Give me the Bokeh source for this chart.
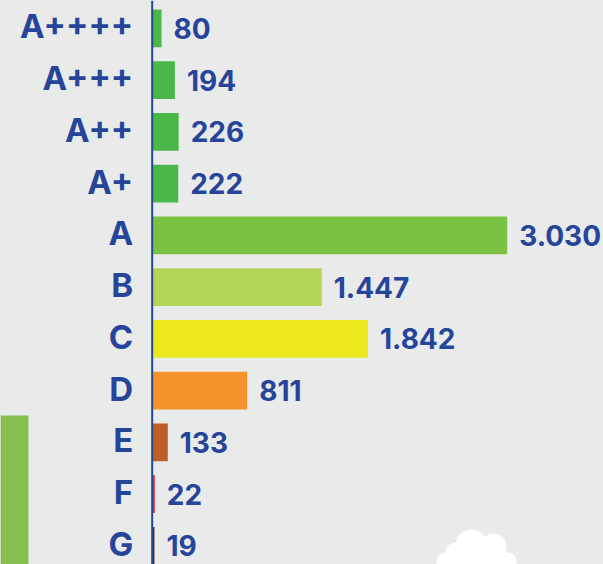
from bokeh.plotting import figure
from bokeh.models import Range1d, Span, BoxAnnotation, ColumnDataSource
from bokeh.core.properties import value
from bokeh.embed import file_html
from bokeh.resources import INLINE

categories = ["A++++", "A+++", "A++", "A+", "A", "B", "C", "D", "E", "F", "G"]
counts = [80, 194, 226, 222, 3030, 1447, 1842, 811, 133, 22, 19]
bar_colors = ["#4ab849", "#4ab849", "#4ab849", "#4ab849", "#7bc142", "#b3d455",
              "#ece81e", "#f6922c", "#bd5f26", "#ee2a35", "#711326"]

BG = "#e9eaea"
NAVY = "#26459a"
FONT = value("Inter")
W, H = 603, 564

count_labels = [f"{v:,}".replace(",", ".") for v in counts]
pos = list(range(len(categories)))

src = ColumnDataSource(dict(pos=pos, cat=categories, count=counts,
                            label=count_labels, color=bar_colors))

p = figure(width=W, height=H, output_backend="svg", toolbar_location=None,
           x_range=Range1d(-1294.8, 3852.0), y_range=Range1d(10.361, -0.537),
           x_axis_type=None, y_axis_type=None, min_border=0,
           background_fill_color=BG, border_fill_color=BG, outline_line_color=None)
p.grid.visible = False


def screen_box(l, r, t, b, color, rad=0):
    # t, b given from the top of the canvas; screen y counts from the bottom
    return BoxAnnotation(left=l, right=r, top=H - t, bottom=H - b,
                         left_units="screen", right_units="screen",
                         top_units="screen", bottom_units="screen",
                         border_radius=rad, fill_color=color, fill_alpha=1,
                         line_color=None, level="underlay")


# decorations
p.add_layout(screen_box(0, 28, 415, 580, "#86be50"))
for (l, r, t, b, rad) in [(436, 516, 552, 580, 9), (455, 487, 529, 561, 16),
                          (480, 506, 533, 559, 13), (445, 465, 542, 562, 10)]:
    p.add_layout(screen_box(l, r, t, b, "white", rad))

p.hbar(y="pos", left=0, right="count", height=0.73, fill_color="color",
       line_color=None, source=src)

p.add_layout(Span(location=0, dimension="height", line_color="#22488f", line_width=2))

p.text(x="count", y="pos", text="label", x_offset=12, text_align="left",
       text_baseline="middle", text_font=FONT, text_font_style="bold",
       text_font_size="28px", text_color=NAVY, source=src)

p.text(x=0, y="pos", text="cat", x_offset=-19, y_offset=-2, text_align="right",
       text_baseline="middle", text_font=FONT, text_font_style="bold",
       text_font_size="33px", text_color=NAVY, source=src)

try:
    from bokeh.core.templates import get_env
    tpl = get_env().from_string(
        '{% extends "file.html" %}{% block preamble %}'
        '<style>html,body{background:#e9eaea;}</style>{% endblock %}')
    html = file_html(p, INLINE, template=tpl)
except Exception:
    html = file_html(p, INLINE)

open("out.html", "w").write(html)
